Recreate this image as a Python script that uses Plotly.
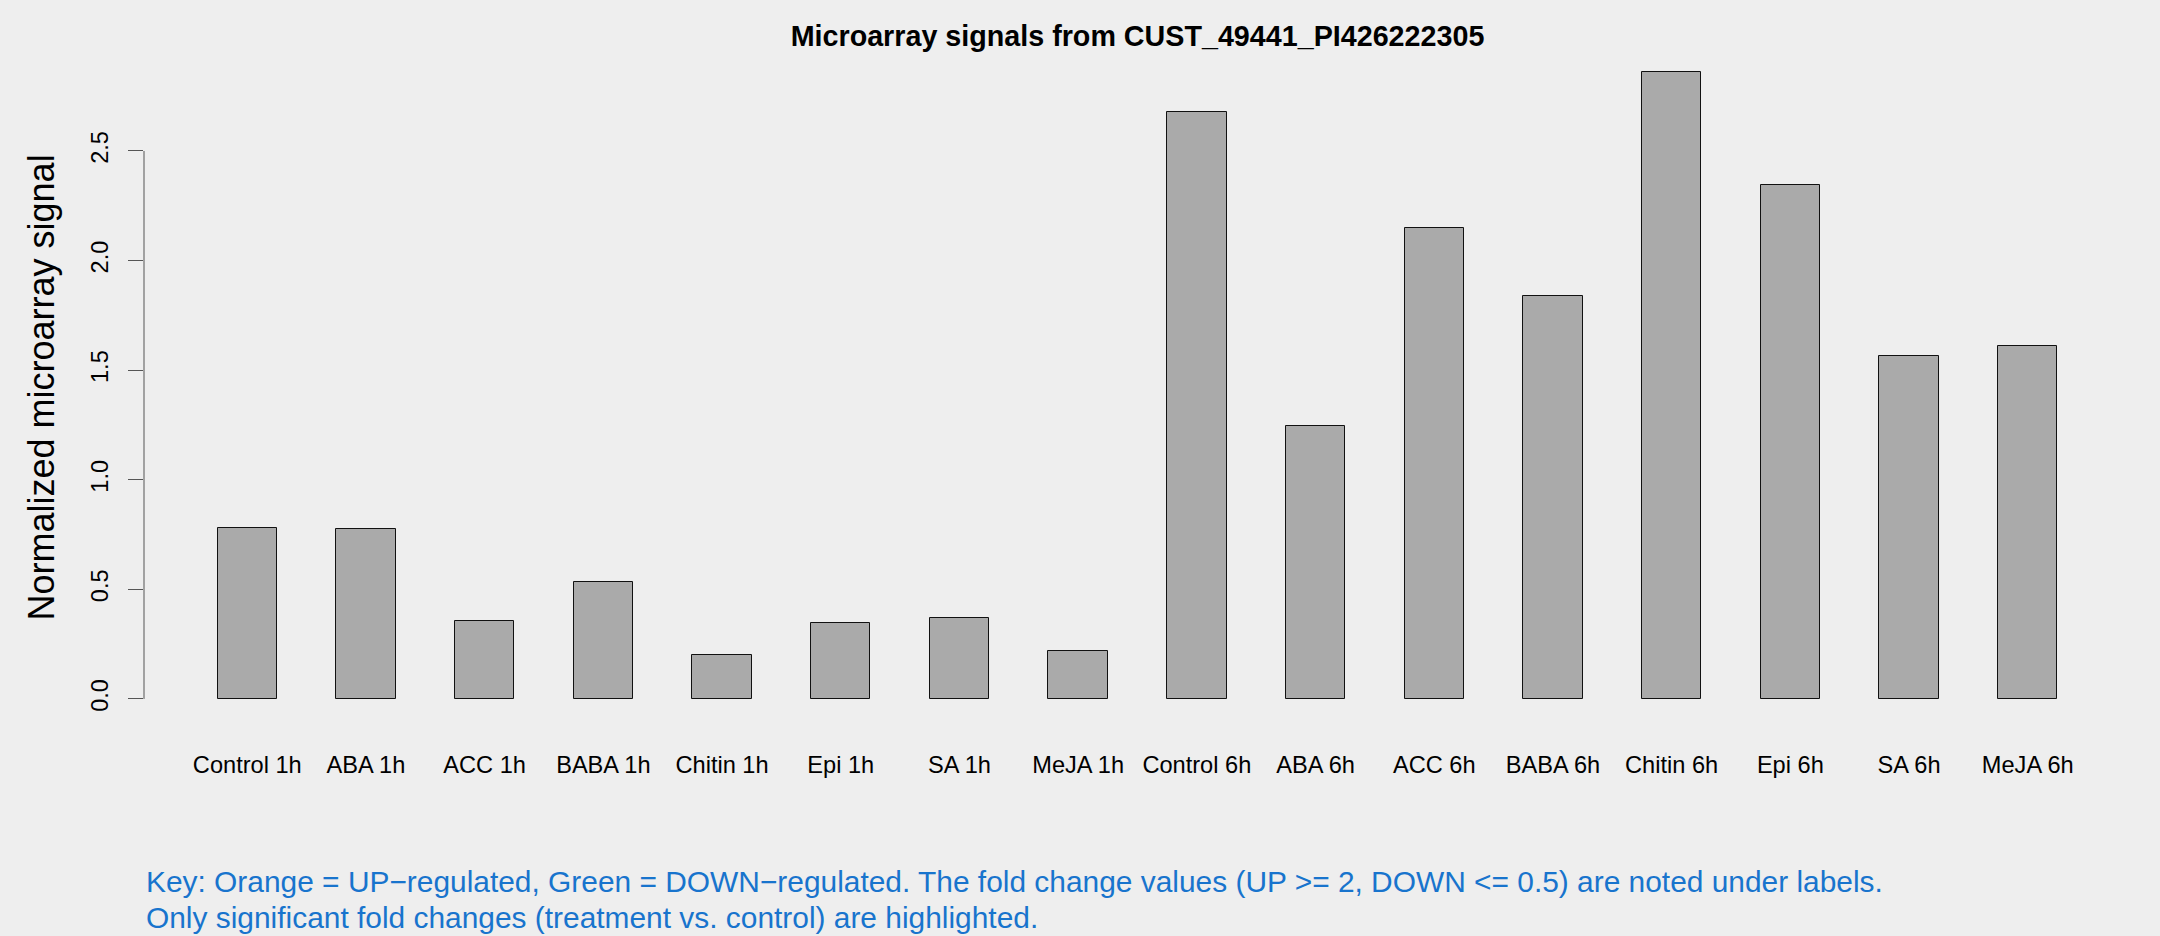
import plotly.graph_objects as go

categories = ["Control 1h", "ABA 1h", "ACC 1h", "BABA 1h", "Chitin 1h", "Epi 1h",
              "SA 1h", "MeJA 1h", "Control 6h", "ABA 6h", "ACC 6h", "BABA 6h",
              "Chitin 6h", "Epi 6h", "SA 6h", "MeJA 6h"]
signal = [0.781, 0.775, 0.356, 0.532, 0.200, 0.345, 0.371, 0.219,
          2.680, 1.244, 2.150, 1.840, 2.860, 2.347, 1.566, 1.608]
y_ticks = [0.0, 0.5, 1.0, 1.5, 2.0, 2.5]
y_tick_labels = ["0.0", "0.5", "1.0", "1.5", "2.0", "2.5"]

title_text = "Microarray signals from CUST_49441_PI426222305"
y_title = "Normalized microarray signal"
key_lines = [
    "Key: Orange = UP\u2212regulated, Green = DOWN\u2212regulated. The fold change values (UP >= 2, DOWN <= 0.5) are noted under labels.",
    "Only significant fold changes (treatment vs. control) are highlighted.",
]

FONT = "Liberation Sans, Arial, Helvetica, sans-serif"
BG = "#EEEEEE"

# R-style axis extension (4% on each side)
ymax = max(signal)
pad_y = 0.04 * ymax
n = len(categories)
# R barplot with space=1: bars span [1, 2n] in R units, centers at 1.5+2i
r_lo, r_hi = 1.0, 2.0 * n
ext = 0.04 * (r_hi - r_lo)
x_lo = ((r_lo - ext) - 1.5) / 2.0
x_hi = ((r_hi + ext) - 1.5) / 2.0

fig = go.Figure()
fig.add_trace(go.Bar(
    x=categories,
    y=signal,
    width=0.5,
    marker=dict(color="#AAAAAA", line=dict(color="#111111", width=1)),
    showlegend=False,
    hoverinfo="x+y",
))

fig.update_layout(
    width=2160,
    height=936,
    paper_bgcolor=BG,
    plot_bgcolor=BG,
    margin=dict(l=144, r=29, t=47, b=212, autoexpand=False),
    font=dict(family=FONT, color="#000000", size=23.6),
    title=dict(
        text="<b>" + title_text + "</b>",
        x=0.5, xref="paper", xanchor="center",
        y=1 - 35.5 / 936, yref="container", yanchor="middle",
        font=dict(family=FONT, size=28.7, color="#000000"),
    ),
    xaxis=dict(
        type="category",
        categoryorder="array",
        categoryarray=categories,
        range=[x_lo, x_hi],
        showgrid=False,
        zeroline=False,
        showline=False,
        ticks="outside",
        ticklen=20,
        tickcolor="rgba(0,0,0,0)",
        tickfont=dict(family=FONT, size=23.6, color="#000000"),
        tickangle=0,
    ),
    yaxis=dict(
        range=[-pad_y, ymax + pad_y],
        tickmode="array",
        tickvals=y_ticks,
        ticktext=y_tick_labels,
        showgrid=False,
        zeroline=False,
        showline=False,
        ticks="outside",
        ticklen=15,
        tickwidth=1,
        tickcolor="#555555",
        tickangle=-90,
        ticklabelstandoff=11,
        tickfont=dict(family=FONT, size=23.6, color="#000000"),
    ),
    bargap=0,
)

# y axis line spanning the tick range only (R style)
fig.add_shape(type="line", xref="paper", yref="y",
              x0=0, x1=0, y0=min(y_ticks), y1=max(y_ticks),
              line=dict(color="#555555", width=1))

# y axis title
fig.add_annotation(text=y_title, xref="paper", yref="paper",
                   x=0, y=0.5, xshift=-103, yshift=-2,
                   xanchor="center", yanchor="middle", textangle=-90,
                   showarrow=False, font=dict(family=FONT, size=36, color="#000000"))

# key text lines
plot_h = 936 - 47 - 212
for i, line in enumerate(key_lines):
    center_px = 882 + 35 * i
    fig.add_annotation(text=line, xref="paper", yref="paper",
                       x=0, y=-(center_px - (936 - 212)) / plot_h,
                       xanchor="left", yanchor="middle", showarrow=False,
                       font=dict(family=FONT, size=29.9, color="#1874CD"))

fig.write_html(
    "out.html",
    config={"displayModeBar": False},
    post_script="document.body.style.margin='0';document.body.style.overflow='hidden';document.body.style.background='#EEEEEE';",
)
